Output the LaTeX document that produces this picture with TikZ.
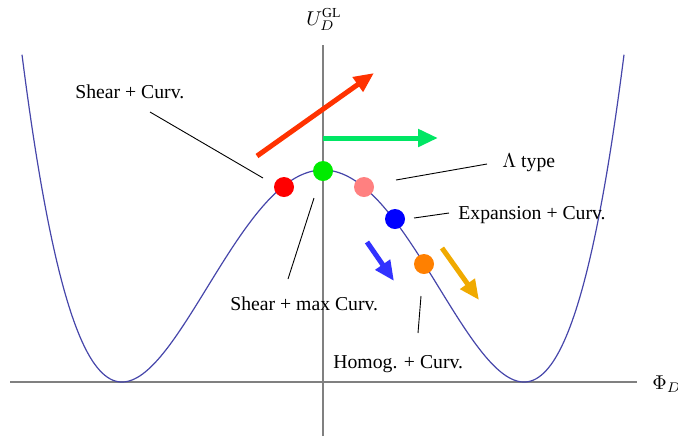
\documentclass[tikz,border=0pt]{standalone}
\usepackage{fontspec}
\setmainfont{Liberation Serif}
\usetikzlibrary{arrows.meta}
\begin{document}
\begin{tikzpicture}[x=0.5pt,y=-0.5pt,
  lbl/.style={inner sep=0pt,anchor=base west,font=\fontsize{9.85}{11}\selectfont},
  axis/.style={draw={rgb,255:red,128;green,128;blue,128},line width=1pt},
  conn/.style={draw=black,line width=0.45pt},
  dot/.style={circle,inner sep=0pt,minimum size=10pt},
  bigarrow/.style={line width=2.5pt,-{Triangle[length=10pt,width=8.5pt]}}]
\useasboundingbox (0,0) rectangle (678,436);
\definecolor{curvec}{RGB}{70,70,170}
\definecolor{redarrow}{RGB}{255,50,0}
\definecolor{greenarrow}{RGB}{0,230,100}
\definecolor{bluearrow}{RGB}{50,50,255}
\definecolor{goldarrow}{RGB}{240,170,0}
\definecolor{pinkdot}{RGB}{255,128,128}
\definecolor{greendot}{RGB}{0,235,0}
\definecolor{orangedot}{RGB}{255,128,0}
% axes
\coordinate (xa) at (10,382);
\coordinate (xb) at (637,382);
\coordinate (ya) at (323,436);
\coordinate (yb) at (323,45);
\draw[axis] (xa) -- (xb);
\draw[axis] (ya) -- (yb);
\node[lbl] (phi) at (652,389) {$\Phi_D$};
\node[lbl] (U) at (306,25) {$U_D^{\mathrm{GL}}$};
% curve
\draw[curvec,line width=0.6pt] plot[domain=-301:301,samples=241,smooth] ({323+\x},{382-212*((\x/201)^2-1)^2});
% arrows
\coordinate (ra) at (257,156); \coordinate (rb) at (374,73);
\coordinate (ga) at (323,138); \coordinate (gb) at (438,138);
\coordinate (ba) at (367,242); \coordinate (bb) at (394,281);
\coordinate (oa) at (442,248); \coordinate (ob) at (479,300);
\draw[bigarrow,redarrow] (ra) -- (rb);
\draw[bigarrow,greenarrow] (ga) -- (gb);
\draw[bigarrow,bluearrow] (ba) -- (bb);
\draw[bigarrow,goldarrow] (oa) -- (ob);
% dots
\node[dot,fill=red] (dred) at (284,187) {};
\node[dot,fill=greendot] (dgreen) at (323,171) {};
\node[dot,fill=pinkdot] (dpink) at (364,187) {};
\node[dot,fill=blue] (dblue) at (395,219) {};
\node[dot,fill=orangedot] (dorange) at (424,264) {};
% labels
\node[lbl] (l1) at (75,98) {Shear + Curv.};
\node[lbl] (l2) at (502,167) {$\Lambda$ type};
\node[lbl] (l3) at (458,219) {Expansion + Curv.};
\node[lbl] (l4) at (230,310) {Shear + max Curv.};
\node[lbl] (l5) at (333,368) {Homog. + Curv.};
% connectors
\coordinate (c1a) at (150,112); \coordinate (c1b) at (263,178);
\coordinate (c2a) at (396,180); \coordinate (c2b) at (487,164);
\coordinate (c3a) at (414,218); \coordinate (c3b) at (449,213);
\coordinate (c4a) at (314,198); \coordinate (c4b) at (288,279);
\coordinate (c5a) at (421,296); \coordinate (c5b) at (418,333);
\draw[conn] (c1a) -- (c1b);
\draw[conn] (c2a) -- (c2b);
\draw[conn] (c3a) -- (c3b);
\draw[conn] (c4a) -- (c4b);
\draw[conn] (c5a) -- (c5b);
\end{tikzpicture}
\end{document}
